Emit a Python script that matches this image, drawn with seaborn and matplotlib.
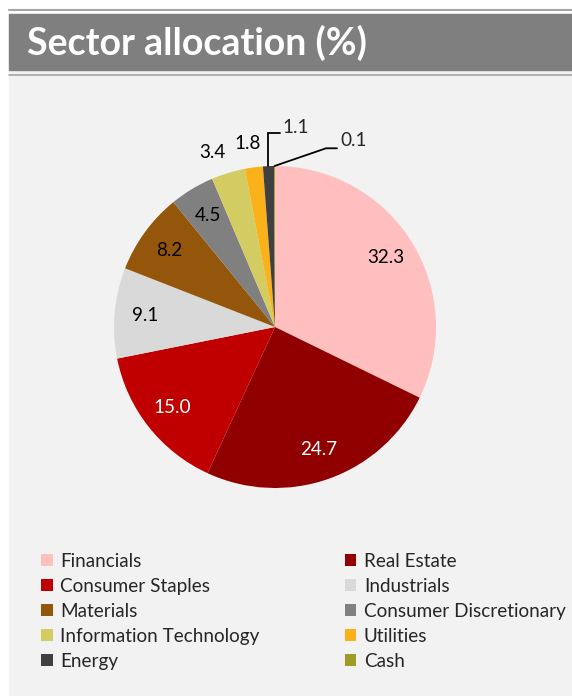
import numpy as np
import seaborn as sns
import matplotlib.pyplot as plt
from matplotlib.patches import Rectangle, Patch
from matplotlib.lines import Line2D

# data
sectors = ["Financials", "Real Estate", "Consumer Staples", "Industrials", "Materials",
           "Consumer Discretionary", "Information Technology", "Utilities", "Energy", "Cash"]
weights = [32.3, 24.7, 15.0, 9.1, 8.2, 4.5, 3.4, 1.8, 1.1, 0.1]
colors = ["#FFBFBF", "#900000", "#C00000", "#D9D9D9", "#94560A",
          "#808080", "#D3CC62", "#FBB21A", "#404040", "#A09C22"]
label_colors = ["#000000", "#FFFFFF", "#FFFFFF", "#000000", "#000000",
                "#000000", "#000000", "#000000", "#000000", "#000000"]

sns.set_theme(style="white")
plt.rcParams["font.family"] = ["Lato", "DejaVu Sans"]

W, H = 572, 696
fig = plt.figure(figsize=(W / 100, H / 100), dpi=100, facecolor="white")

def fx(px):
    return px / W

def fy(py):
    return 1 - py / H

# frame, title bar and panel background
fig.patches.append(Rectangle((fx(9), 0), fx(563), fy(70), transform=fig.transFigure,
                             color="#F2F2F2", zorder=-2))
fig.patches.append(Rectangle((fx(9), fy(69.5)), fx(563), 55.5 / H, transform=fig.transFigure,
                             color="#7F7F7F", zorder=-2))
fig.lines.append(Line2D([fx(9), 1], [fy(9.5), fy(9.5)], transform=fig.transFigure,
                        color="#A6A6A6", lw=1.5, zorder=-1))
fig.lines.append(Line2D([fx(9), 1], [fy(74.5), fy(74.5)], transform=fig.transFigure,
                        color="#A6A6A6", lw=1.2, zorder=-1))
fig.text(fx(27), fy(43), "Sector allocation (%)", color="white", fontsize=27,
         fontweight="bold", va="center", ha="left")

# pie axes: centre (275, 327) px, radius 161 px
R = 161
lim = 1.5
side = 2 * lim * R
ax = fig.add_axes([fx(275 - side / 2), (H - 327 - side / 2) / H, side / W, side / H])
ax.set_facecolor("none")
wedges, _ = ax.pie(weights, colors=sns.color_palette(colors), startangle=90,
                   counterclock=False, radius=1,
                   wedgeprops=dict(linewidth=0))
ax.set_xlim(-lim, lim)
ax.set_ylim(-lim, lim)
ax.set_aspect("equal")
ax.axis("off")

fs = 13.6
for i, w in enumerate(wedges):
    ang = np.deg2rad((w.theta1 + w.theta2) / 2)
    txt = f"{weights[i]:.1f}"
    if weights[i] >= 4:
        r = 0.81
        ax.text(r * np.cos(ang), r * np.sin(ang), txt, ha="center", va="center",
                fontsize=fs, color=label_colors[i])
    elif weights[i] >= 1.5:
        r = 1.15
        ang2 = ang + np.deg2rad(3 if weights[i] > 3 else 1)
        ax.text(r * np.cos(ang2), r * np.sin(ang2), txt, ha="center", va="center",
                fontsize=fs, color=label_colors[i])
    elif weights[i] >= 1:
        # leader line with an elbow
        x0, y0 = np.cos(ang), np.sin(ang)
        ax.plot([x0, x0, x0 + 0.07], [y0, 1.205, 1.205], color="black", lw=1.3,
                solid_joinstyle="miter")
        ax.text(x0 + 0.09, 1.24, txt, ha="left", va="center", fontsize=fs)
    else:
        x0, y0 = np.cos(ang), np.sin(ang)
        ax.plot([x0, 0.317, 0.385], [y0, 1.11, 1.11], color="black", lw=1.3)
        ax.text(0.405, 1.16, txt, ha="left", va="center", fontsize=fs)

# legend, row-major like the original
order = [0, 2, 4, 6, 8, 1, 3, 5, 7, 9]
handles = [Patch(facecolor=colors[i], edgecolor="none", label=sectors[i]) for i in order]
fig.legend(handles=handles, loc="upper left", bbox_to_anchor=(fx(41), fy(553)),
           ncol=2, frameon=False, fontsize=fs, handlelength=0.62, handleheight=0.62,
           handletextpad=0.4, labelspacing=0.42, columnspacing=4.5, borderpad=0,
           borderaxespad=0)

fig.savefig("out.png", dpi=100, facecolor="white")
